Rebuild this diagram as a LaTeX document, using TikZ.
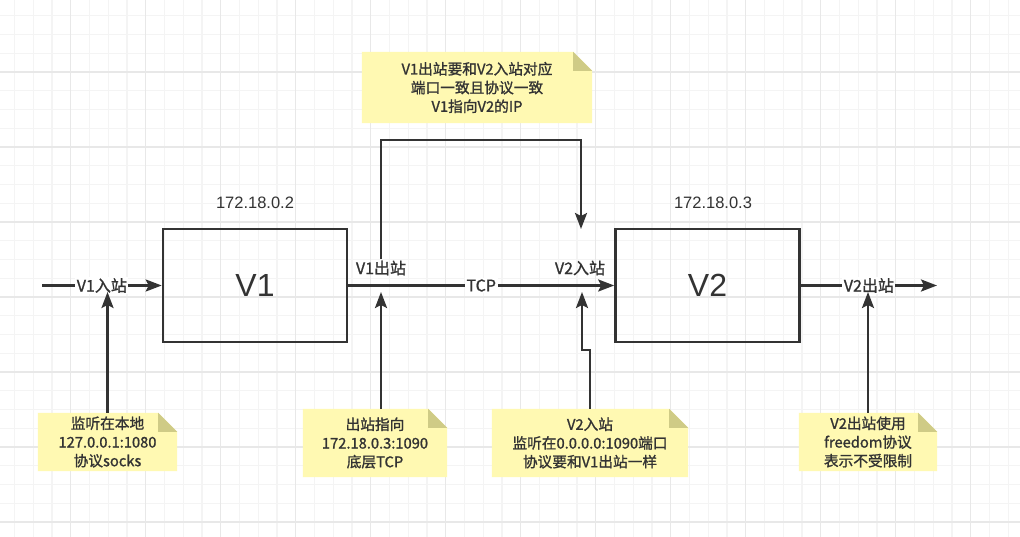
\documentclass[tikz,border=0pt]{standalone}
\usepackage{fontspec}
\setmainfont{Noto Sans CJK SC}[RawFeature={embolden=1.2}]
\newfontfamily\arialf{Liberation Sans}
\usetikzlibrary{arrows.meta,calc}
\definecolor{ink}{HTML}{333333}
\definecolor{notefill}{HTML}{FFF9B2}
\definecolor{notefold}{HTML}{CFCB86}
\definecolor{gridminor}{HTML}{F4F4F4}
\definecolor{gridmajor}{HTML}{E8E8E8}
\pgfdeclarelayer{gridlayer}
\pgfdeclarelayer{notelayer}
\pgfsetlayers{gridlayer,notelayer,main}
\newcommand\notebg[1]{%
  \begin{pgfonlayer}{notelayer}
    \fill[notefill] (#1.south west) -- (#1.north west) -- ($(#1.north east)+(-19,0)$)
      -- ($(#1.north east)+(0,19)$) -- (#1.south east) -- cycle;
    \fill[notefold] ($(#1.north east)+(-19,0)$) -- ($(#1.north east)+(-19,19)$)
      -- ($(#1.north east)+(0,19)$) -- cycle;
  \end{pgfonlayer}}
\begin{document}
\begin{tikzpicture}[x=1pt,y=-1pt,
  box/.style={draw=ink, line width=2.6pt, minimum width=184pt, minimum height=113pt,
    inner sep=0pt, text=ink, font=\arialf\fontsize{32}{36}\selectfont},
  note/.style={text=ink, align=center, inner sep=0pt,
    font=\fontsize{14.7}{18.7}\selectfont},
  elabel/.style={fill=white, text=ink, inner sep=1.5pt, font=\fontsize{16}{18}\selectfont},
  iplabel/.style={text=ink, inner sep=0pt, font=\arialf\fontsize{16.5}{18}\selectfont},
  conn/.style={draw=ink, line width=2.4pt, -{Stealth[length=16pt,width=12pt,inset=3pt]}}]
\useasboundingbox (0,0) rectangle (1020,537);
\begin{pgfonlayer}{gridlayer}
  \fill[white] (0,0) rectangle (1020,537);
  \foreach \i in {0,...,53} \draw[gridminor, line width=1.2pt] ({14.45+18.75*\i},0) -- ++(0,537);
  \foreach \j in {0,...,27} \draw[gridminor, line width=1.2pt] (0,{15.75+18.75*\j}) -- ++(1020,0);
  \foreach \i in {0,...,12} \draw[gridmajor, line width=1.2pt] ({70.7+75*\i},0) -- ++(0,537);
  \foreach \j in {0,...,6} \draw[gridmajor, line width=1.2pt] (0,{72+75*\j}) -- ++(1020,0);
\end{pgfonlayer}

% main boxes
\node[box] (v1) at (255,285.5) {V1};
\node[box] (v2) at (707.5,285.5) {V2};
\node[iplabel] (ip1) at (255,203) {172.18.0.2};
\node[iplabel] (ip2) at (713,203) {172.18.0.3};

% free ends
\coordinate (inS) at (42,285.5);
\coordinate (outE) at (937,285.5);
\coordinate (a1) at (107.5,292);
\coordinate (a2) at (381,292);
\coordinate (a3) at (582,292);
\coordinate (a4) at (868,292);
\coordinate (topc) at (481,140);
\coordinate (v2in) at (581,229);

% main flow
\draw[conn] (inS) -- node[elabel] (lin) {V1入站} (v1);
\draw[conn] (v1) -- node[elabel] (ltcp) {TCP} (v2);
\draw[conn] (v2) -- node[elabel] (lout) {V2出站} (outE);
\node[elabel, fill=none] (l1) at (381,268) {V1出站};
\node[elabel, fill=none] (l2) at (580,268) {V2入站};

% top note and connector
\node[note, minimum width=230pt, minimum height=71pt] (nt) at (477,87.5)
  {V1出站要和V2入站对应\\端口一致且协议一致\\V1指向V2的IP};
\notebg{nt}
\draw[conn] (l1.north) |- (topc) -| (v2in);

% bottom notes
\node[note, minimum width=139pt, minimum height=58pt] (n1) at (107.5,442)
  {监听在本地\\127.0.0.1:1080\\协议socks};
\node[note, minimum width=144pt, minimum height=68pt] (n2) at (375,443)
  {出站指向\\172.18.0.3:1090\\底层TCP};
\node[note, minimum width=196pt, minimum height=68pt] (n3) at (590,443)
  {V2入站\\监听在0.0.0.0:1090端口\\协议要和V1出站一样};
\node[note, minimum width=138pt, minimum height=58pt] (n4) at (868,442)
  {V2出站使用\\freedom协议\\表示不受限制};
\notebg{n1}\notebg{n2}\notebg{n3}\notebg{n4}

\draw[conn] (a1 |- n1.north) -- (a1);
\draw[conn] (a2 |- n2.north) -- (a2);
\draw[conn] (n3.north) -- ++(0,-59) -| (a3);
\draw[conn] (a4 |- n4.north) -- (a4);
\end{tikzpicture}
\end{document}
